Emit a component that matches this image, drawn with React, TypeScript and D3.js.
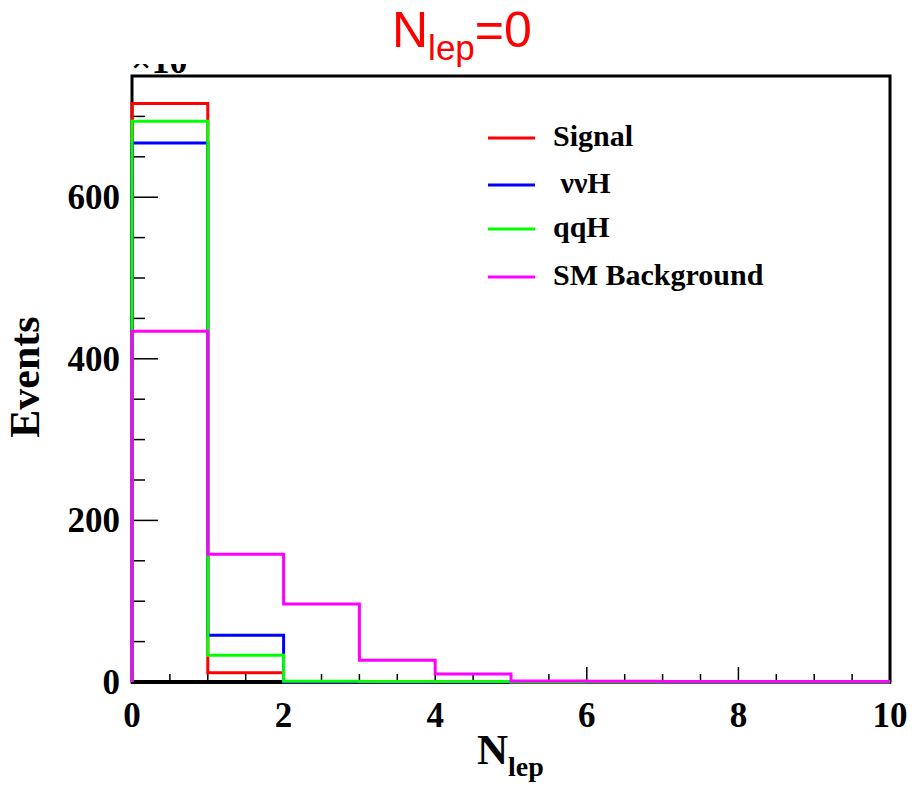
import React from "react";
import * as d3 from "d3";

const binEdges = [0, 1, 2, 3, 4, 5, 6, 7, 8, 9, 10];
const signal = [716, 11.5, 0, 0, 0, 0, 0, 0, 0, 0];
const vvH = [667, 58, 0, 0, 0, 0, 0, 0, 0, 0];
const qqH = [694, 33, 0.8, 0.6, 0.5, 0, 0, 0, 0, 0];
const smBkg = [434, 158, 96.5, 27, 10, 1.2, 0.9, 0.7, 0.6, 0.5];

const seriesNames = ["Signal", " \u03bd\u03bdH", "qqH", "SM Background"];
const seriesColors = ["#ff0000", "#0000ff", "#00ff00", "#ff00ff"];
const xTicks = [0, 2, 4, 6, 8, 10];
const yTicks = [0, 200, 400, 600];

const W = 912;
const H = 786;
const L = 132, R = 890, T = 76, B = 682;

export default function App() {
  const x = d3.scaleLinear().domain([0, 10]).range([L, R]);
  const y = d3.scaleLinear().domain([0, 750]).range([B, T]);
  const serif = "'Liberation Serif', 'Times New Roman', serif";
  const sans = "'Liberation Sans', Arial, sans-serif";

  const histPath = (vals: number[]) => {
    const pts: [number, number][] = [[x(binEdges[0]), y(0)]];
    vals.forEach((v, i) => {
      pts.push([x(binEdges[i]), y(v)]);
      pts.push([x(binEdges[i + 1]), y(v)]);
    });
    return d3.line()(pts) as string;
  };

  const allSeries = [signal, vvH, qqH, smBkg];

  const xMinor = d3.range(0, 10.001, 0.5);
  const yMinor = d3.range(0, 750.001, 50);

  return (
    <div style={{ position: "absolute", left: 0, top: 0 }}>
      <svg width={W} height={H} style={{ display: "block", background: "#fff" }}>
        <defs>
          <clipPath id="expclip">
            <rect x={120} y={64} width={90} height={11} />
          </clipPath>
          <clipPath id="plotclip">
            <rect x={L - 2} y={T} width={R - L + 4} height={B - T + 2} />
          </clipPath>
        </defs>

        {/* title */}
        <text x={392} y={47} fill="#ff0000" fontFamily={sans} fontSize={50}>
          N
          <tspan fontSize={35} dy={13}>lep</tspan>
          <tspan dy={-13}>=0</tspan>
        </text>

        {/* exponent label (clipped) */}
        <text x={131} y={73} fontFamily={serif} fontWeight="bold" fontSize={36} clipPath="url(#expclip)">
          {"\u00d710"}
        </text>

        {/* ticks */}
        {xMinor.map((t) => {
          const major = Math.abs(t % 2) < 1e-6;
          return (
            <line key={"xt" + t} x1={x(t)} x2={x(t)} y1={B} y2={B - (major ? 15 : 8)} stroke="#000" strokeWidth={1.5} />
          );
        })}
        {yMinor.map((t) => {
          const major = Math.abs(t % 200) < 1e-6;
          return (
            <line key={"yt" + t} x1={L} x2={L + (major ? 26 : 13)} y1={y(t)} y2={y(t)} stroke="#000" strokeWidth={1.5} />
          );
        })}

        {/* frame */}
        <rect x={L} y={T} width={R - L} height={B - T} fill="none" stroke="#000" strokeWidth={3} />
        <line x1={L - 1} x2={R + 1} y1={B} y2={B} stroke="#000" strokeWidth={4} />

        {/* histograms */}
        <g clipPath="url(#plotclip)">
          {allSeries.map((s, i) => (
            <path key={"h" + i} d={histPath(s)} fill="none" stroke={seriesColors[i]} strokeWidth={3} />
          ))}
        </g>

        {/* tick labels */}
        {xTicks.map((t) => (
          <text key={"xl" + t} x={x(t)} y={727} textAnchor="middle" fontFamily={serif} fontWeight="bold" fontSize={35}>
            {t}
          </text>
        ))}
        {yTicks.map((t) => (
          <text key={"yl" + t} x={120} y={y(t) + 12} textAnchor="end" fontFamily={serif} fontWeight="bold" fontSize={35}>
            {t}
          </text>
        ))}

        {/* axis titles */}
        <text x={477} y={764} fontFamily={serif} fontWeight="bold" fontSize={43}>
          N
          <tspan fontSize={28} dy={12}>lep</tspan>
        </text>
        <text
          transform={`translate(39, 377) rotate(-90)`}
          textAnchor="middle"
          fontFamily={serif}
          fontWeight="bold"
          fontSize={42}
        >
          Events
        </text>

        {/* legend */}
        {seriesNames.map((n, i) => {
          const ly = [138, 185, 229, 277][i];
          return (
            <g key={"lg" + i}>
              <line x1={488} x2={535} y1={ly} y2={ly} stroke={seriesColors[i]} strokeWidth={3} />
              <text x={553} y={ly + 8} fontFamily={serif} fontWeight="bold" fontSize={30} style={{ whiteSpace: "pre" }}>
                {n}
              </text>
            </g>
          );
        })}
      </svg>
    </div>
  );
}
